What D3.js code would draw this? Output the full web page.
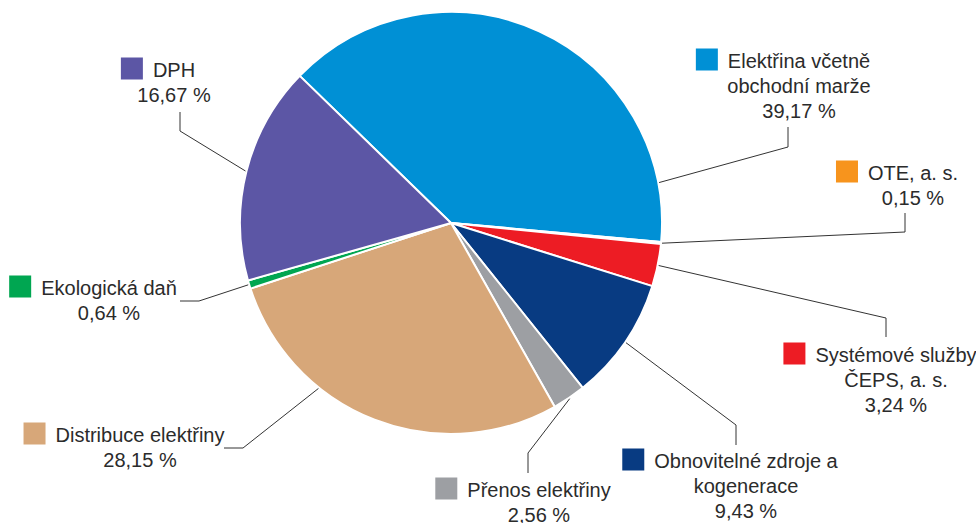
<!DOCTYPE html>
<html>
<head>
<meta charset="utf-8">
<script src="https://cdn.jsdelivr.net/npm/d3@7"></script>
<style>
  body { margin: 0; background: #fff; }
  text { font-family: "Liberation Sans", Arial, sans-serif; font-size: 20px; fill: #2b2b2b; }
</style>
</head>
<body>
<div id="chart"></div>
<script>
const width = 976;
const height = 523;

// data
const categories = ["Elektřina včetně obchodní marže", "OTE, a. s.", "Systémové služby ČEPS, a. s.",
  "Obnovitelné zdroje a kogenerace", "Přenos elektřiny", "Distribuce elektřiny", "Ekologická daň", "DPH"];
const labelLines = [["Elektřina včetně", "obchodní marže"], ["OTE, a. s."], ["Systémové služby", "ČEPS, a. s."],
  ["Obnovitelné zdroje a", "kogenerace"], ["Přenos elektřiny"], ["Distribuce elektřiny"], ["Ekologická daň"], ["DPH"]];
const shares = [39.17, 0.15, 3.24, 9.43, 2.56, 28.15, 0.64, 16.67];
const colors = ["#0090d5", "#f7941d", "#ed1c24", "#083b82", "#9d9fa3", "#d7a779", "#00a651", "#5c56a5"];

// label layout: centre x, first baseline, leader elbow + end, optional anchor angle (deg)
const layout = [
  { cx: 799, y: 68,  elbow: [788, 147], end: [788, 127], angle: 79 },
  { cx: 913, y: 180, elbow: [905, 232], end: [905, 213] },
  { cx: 896, y: 362, elbow: [886, 318], end: [886, 337] },
  { cx: 746, y: 468, elbow: [736, 425], end: [736, 445] },
  { cx: 539, y: 497, elbow: [528, 453], end: [528, 473] },
  { cx: 140, y: 442, elbow: [243, 448], end: [224, 448], angle: 218.7 },
  { cx: 109, y: 295, elbow: [199, 301], end: [180, 301] },
  { cx: 174, y: 77,  elbow: [180, 131], end: [180, 112] }
];

const cx = 451, cy = 223, r = 211;
const startDeg = -45.8;
const rad = Math.PI / 180;
const fmt = v => d3.format(".2f")(v).replace(".", ",") + " %";

const svg = d3.select("#chart").append("svg")
  .attr("width", width)
  .attr("height", height);

const pie = d3.pie()
  .sort(null)
  .value(d => d)
  .startAngle(startDeg * rad)
  .endAngle((startDeg + 360) * rad);

const arcs = pie(shares);
const arc = d3.arc().innerRadius(0).outerRadius(r);

const g = svg.append("g").attr("transform", `translate(${cx},${cy})`);

g.selectAll("path.slice")
  .data(arcs)
  .enter()
  .append("path")
  .attr("class", "slice")
  .attr("d", arc)
  .attr("fill", (d, i) => colors[i])
  .attr("stroke", "#fff")
  .attr("stroke-width", 2)
  .attr("stroke-linejoin", "round");

// leader lines
svg.selectAll("path.leader")
  .data(arcs)
  .enter()
  .append("path")
  .attr("class", "leader")
  .attr("fill", "none")
  .attr("stroke", "#333")
  .attr("stroke-width", 1)
  .attr("d", (d, i) => {
    const l = layout[i];
    const a = l.angle !== undefined ? l.angle * rad : (d.startAngle + d.endAngle) / 2;
    const p0 = [cx + Math.sin(a) * (r + 1), cy - Math.cos(a) * (r + 1)];
    return d3.line()([p0, l.elbow, l.end]);
  });

// labels
const labels = svg.selectAll("g.label")
  .data(categories)
  .enter()
  .append("g")
  .attr("class", "label");

labels.each(function (c, i) {
  const el = d3.select(this);
  const l = layout[i];
  const lines = labelLines[i].concat([fmt(shares[i])]);
  lines.forEach((t, k) => {
    el.append("text")
      .attr("x", l.cx)
      .attr("y", l.y + k * 25)
      .attr("text-anchor", "middle")
      .text(t);
  });
  const first = el.select("text").node();
  const w = first.getComputedTextLength();
  el.append("rect")
    .attr("x", l.cx - w / 2 - 10 - 22)
    .attr("y", l.y - 19.5)
    .attr("width", 22)
    .attr("height", 22)
    .attr("fill", colors[i]);
});
</script>
</body>
</html>
